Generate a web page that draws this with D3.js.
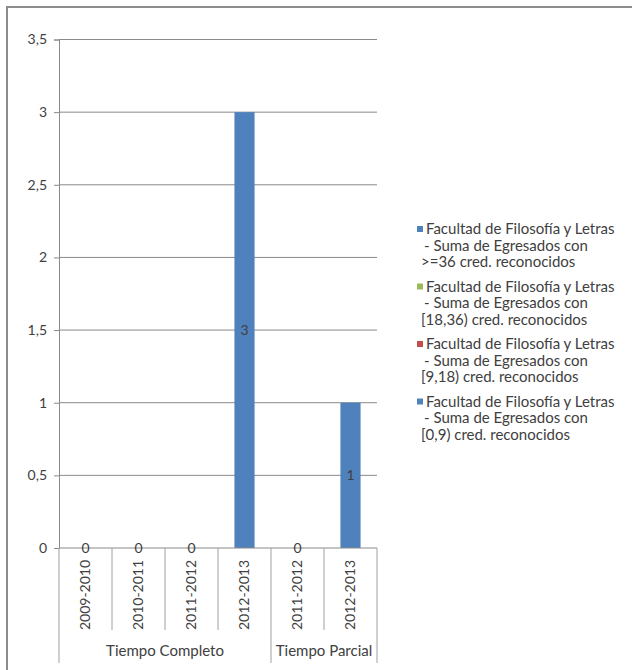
<!DOCTYPE html>
<html>
<head>
<meta charset="utf-8">
<script src="https://cdn.jsdelivr.net/npm/d3@7"></script>
<style>
  body { margin: 0; background: #fff; }
  text { font-family: Lato, "Liberation Sans", sans-serif; fill: #404040; }
</style>
</head>
<body>
<svg id="chart" width="632" height="670"></svg>
<script>
// categories (year + group) and the four series
var years = ["2009-2010", "2010-2011", "2011-2012", "2012-2013", "2011-2012", "2012-2013"];
var groups = ["Tiempo Completo", "Tiempo Completo", "Tiempo Completo", "Tiempo Completo", "Tiempo Parcial", "Tiempo Parcial"];
var groupNames = ["Tiempo Completo", "Tiempo Parcial"];

var s0_9 = [0, 0, 0, 3, 0, 1];
var s9_18 = [0, 0, 0, 0, 0, 0];
var s18_36 = [0, 0, 0, 0, 0, 0];
var s36 = [0, 0, 0, 0, 0, 0];

var yTicks = [0, 0.5, 1, 1.5, 2, 2.5, 3, 3.5];

// legend, listed top to bottom like the original
var legendItems = [
    { lines: ["Facultad de Filosofía y Letras", "- Suma de Egresados con", ">=36 cred. reconocidos"], color: "#4f81bd" },
    { lines: ["Facultad de Filosofía y Letras", "- Suma de Egresados con", "[18,36) cred. reconocidos"], color: "#9bbb59" },
    { lines: ["Facultad de Filosofía y Letras", "- Suma de Egresados con", "[9,18) cred. reconocidos"], color: "#c0504d" },
    { lines: ["Facultad de Filosofía y Letras", "- Suma de Egresados con", "[0,9) cred. reconocidos"], color: "#4f81bd" }
];

var svg = d3.select("#chart");
var fontSize = "14px";
var bigFont = "15px";

// outer frame
svg.append("rect")
    .attr("x", 7).attr("y", 7)
    .attr("width", 630).attr("height", 700)
    .attr("fill", "none")
    .attr("stroke", "#8c8c8c")
    .attr("stroke-width", 2);

var plotLeft = 59, plotRight = 377, plotTop = 39.5, plotBottom = 548;

var idx = d3.range(years.length);
var x = d3.scaleBand().domain(idx).range([plotLeft, plotRight]).paddingInner(0).paddingOuter(0);
var y = d3.scaleLinear().domain([0, 3.5]).range([plotBottom, plotTop]);

// gridlines
svg.append("g").selectAll("line")
    .data(yTicks.filter(function (d) { return d > 0; }))
    .join("line")
    .attr("x1", plotLeft).attr("x2", plotRight)
    .attr("y1", function (d) { return y(d); })
    .attr("y2", function (d) { return y(d); })
    .attr("stroke", "#8a8a8a")
    .attr("stroke-width", 1);

// y axis
var yAxis = d3.axisLeft(y)
    .tickValues(yTicks)
    .tickSize(5)
    .tickPadding(7)
    .tickFormat(function (d) { return String(d).replace(".", ","); });
var ya = svg.append("g").attr("transform", "translate(" + plotLeft + ",0)").call(yAxis);
ya.select(".domain").attr("stroke", "#8a8a8a");
ya.selectAll(".tick line").attr("stroke", "#8a8a8a");
ya.selectAll(".tick text").style("font-size", fontSize).attr("fill", "#404040")
    .style("font-family", "Lato, 'Liberation Sans', sans-serif");

// stacked bars
var table = idx.map(function (i) {
    return { i: i, a: s0_9[i], b: s9_18[i], c: s18_36[i], d: s36[i] };
});
var keys = ["a", "b", "c", "d"];
var colors = { a: "#4f81bd", b: "#c0504d", c: "#9bbb59", d: "#4f81bd" };
var stacked = d3.stack().keys(keys)(table);
var barW = x.bandwidth() * 0.38;

svg.append("g").selectAll("g")
    .data(stacked)
    .join("g")
    .attr("fill", function (s) { return colors[s.key]; })
    .selectAll("rect")
    .data(function (s) { return s; })
    .join("rect")
    .attr("x", function (d) { return x(d.data.i) + (x.bandwidth() - barW) / 2; })
    .attr("width", barW)
    .attr("y", function (d) { return y(d[1]); })
    .attr("height", function (d) { return y(d[0]) - y(d[1]); });

// x axis line
svg.append("line")
    .attr("x1", plotLeft).attr("x2", plotRight)
    .attr("y1", plotBottom).attr("y2", plotBottom)
    .attr("stroke", "#8a8a8a");

// data labels, only for the series holding the values
svg.append("g").selectAll("text")
    .data(stacked[0])
    .join("text")
    .attr("x", function (d) { return x(d.data.i) + x.bandwidth() / 2; })
    .attr("y", function (d) { return (y(d[0]) + y(d[1])) / 2; })
    .attr("dy", "0.35em")
    .attr("text-anchor", "middle")
    .style("font-size", fontSize)
    .attr("fill", "#1f1f1f")
    .text(function (d) { return d[1] - d[0]; });

// category separators
var boundaries = idx.map(function (i) { return x(i); }).concat([plotRight]);
svg.append("g").selectAll("line")
    .data(boundaries)
    .join("line")
    .attr("x1", function (d) { return d; })
    .attr("x2", function (d) { return d; })
    .attr("y1", plotBottom)
    .attr("y2", function (d, k) {
        var isGroupEdge = k == 0 || k == boundaries.length - 1 || groups[k] != groups[k - 1];
        return isGroupEdge ? 663 : 630;
    })
    .attr("stroke", "#a0a0a0");

// rotated year labels
svg.append("g").selectAll("text")
    .data(idx)
    .join("text")
    .attr("transform", function (i) {
        return "translate(" + (x(i) + x.bandwidth() / 2) + ",595) rotate(-90)";
    })
    .attr("text-anchor", "middle")
    .attr("dy", "0.35em")
    .style("font-size", fontSize)
    .text(function (i) { return years[i]; });

// group labels
groupNames.forEach(function (g) {
    var members = idx.filter(function (i) { return groups[i] == g; });
    var x0 = x(members[0]), x1 = x(members[members.length - 1]) + x.bandwidth();
    svg.append("text")
        .attr("x", (x0 + x1) / 2)
        .attr("y", 651)
        .attr("dy", "0.35em")
        .attr("text-anchor", "middle")
        .style("font-size", bigFont)
        .text(g);
});

// legend
var lg = svg.append("g").attr("transform", "translate(417,229)");
legendItems.forEach(function (item, k) {
    var gy = k * 57.5;
    lg.append("rect")
        .attr("x", 0).attr("y", gy - 3)
        .attr("width", 6).attr("height", 6)
        .attr("fill", item.color);
    item.lines.forEach(function (ln, j) {
        lg.append("text")
            .attr("x", j == 0 ? 9 : (j == 1 ? 7 : 4))
            .attr("y", gy + j * 16.5)
            .attr("dy", "0.35em")
            .style("font-size", bigFont)
            .text(ln);
    });
});
</script>
</body>
</html>
